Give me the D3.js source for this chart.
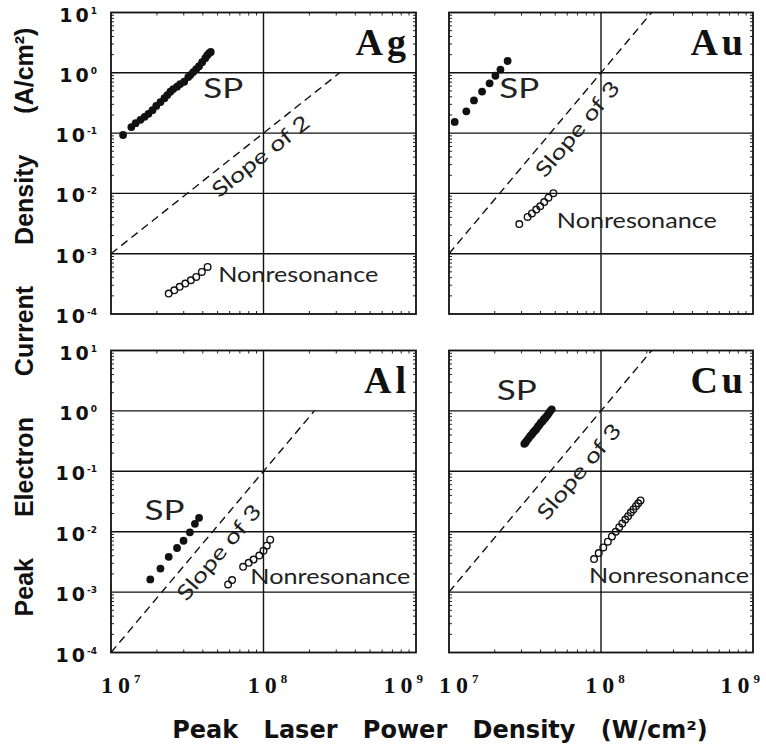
<!DOCTYPE html>
<html>
<head>
<meta charset="utf-8">
<script src="https://cdn.jsdelivr.net/npm/d3@7"></script>
<style>
  html, body { margin: 0; padding: 0; background: #fff; }
  svg { display: block; }
</style>
</head>
<body>
<svg id="chart" width="766" height="747"></svg>
<script>
// ---------- data ----------
const metals = ["Ag", "Au", "Al", "Cu"];
const slopeNames = ["Slope of 2", "Slope of 3", "Slope of 3", "Slope of 3"];

const xTickValues = [1e7, 1e8, 1e9];
const xTickExponents = ["7", "8", "9"];
const yTickValues = [1e1, 1e0, 1e-1, 1e-2, 1e-3, 1e-4];
const yTickExponents = ["1", "0", "-1", "-2", "-3", "-4"];

// surface-plasmon (SP) excitation: [laser power density W/cm², current density A/cm²]
const agSP = [
  [1.20e7, 0.093], [1.36e7, 0.126], [1.45e7, 0.146], [1.56e7, 0.166], [1.66e7, 0.186],
  [1.76e7, 0.209], [1.87e7, 0.240], [1.98e7, 0.282], [2.11e7, 0.327], [2.24e7, 0.380],
  [2.34e7, 0.427], [2.45e7, 0.485], [2.56e7, 0.537], [2.71e7, 0.589], [2.84e7, 0.650],
  [3.02e7, 0.710], [3.21e7, 0.851], [3.31e7, 0.916], [3.46e7, 1.03], [3.62e7, 1.15],
  [3.78e7, 1.29], [3.96e7, 1.50], [4.15e7, 1.75], [4.28e7, 1.96], [4.41e7, 2.12],
  [4.51e7, 2.22]
];
const auSP = [
  [1.09e7, 0.153], [1.30e7, 0.230], [1.46e7, 0.348], [1.65e7, 0.489],
  [1.85e7, 0.668], [2.02e7, 0.893], [2.18e7, 1.13], [2.43e7, 1.57]
];
const alSP = [
  [1.81e7, 1.62e-3], [2.11e7, 2.45e-3], [2.39e7, 3.83e-3], [2.71e7, 5.37e-3],
  [2.99e7, 7.08e-3], [3.29e7, 9.77e-3], [3.55e7, 1.35e-2], [3.78e7, 1.70e-2]
];
const cuSP = [
  [3.13e7, 0.285], [3.19e7, 0.300], [3.26e7, 0.326], [3.34e7, 0.352], [3.42e7, 0.383],
  [3.50e7, 0.405], [3.58e7, 0.440], [3.67e7, 0.470], [3.75e7, 0.498], [3.84e7, 0.548],
  [3.93e7, 0.585], [4.02e7, 0.636], [4.12e7, 0.672], [4.21e7, 0.728], [4.31e7, 0.770],
  [4.42e7, 0.838], [4.52e7, 0.905], [4.62e7, 0.985], [4.74e7, 1.06]
];

// nonresonant illumination
const agNR = [
  [2.39e7, 2.18e-4], [2.60e7, 2.47e-4], [2.82e7, 2.82e-4], [3.07e7, 3.19e-4],
  [3.34e7, 3.63e-4], [3.62e7, 4.12e-4], [3.94e7, 4.99e-4], [4.30e7, 6.03e-4]
];
const auNR = [
  [2.90e7, 3.10e-3], [3.29e7, 4.08e-3], [3.51e7, 4.65e-3], [3.75e7, 5.41e-3],
  [3.98e7, 6.12e-3], [4.23e7, 7.19e-3], [4.51e7, 8.51e-3], [4.86e7, 1.01e-2]
];
const alNR = [
  [5.86e7, 1.34e-3], [6.22e7, 1.58e-3], [7.35e7, 2.62e-3], [8.00e7, 3.05e-3],
  [8.61e7, 3.46e-3], [9.38e7, 4.03e-3], [1.00e8, 4.86e-3], [1.05e8, 5.87e-3],
  [1.107e8, 7.38e-3]
];
const cuNR = [
  [9.00e7, 3.52e-3], [9.66e7, 4.42e-3], [1.035e8, 5.50e-3], [1.109e8, 6.84e-3],
  [1.180e8, 8.34e-3], [1.250e8, 1.00e-2], [1.318e8, 1.19e-2], [1.380e8, 1.37e-2],
  [1.445e8, 1.59e-2], [1.507e8, 1.81e-2], [1.570e8, 2.07e-2], [1.633e8, 2.34e-2],
  [1.698e8, 2.65e-2], [1.758e8, 2.96e-2], [1.820e8, 3.30e-2]
];

// power-law guide lines (end points)
const agGuide = [[1e7, 1e-3], [3.16e8, 1e0]];
const auGuide = [[1e7, 1e-3], [2.154e8, 1e1]];
const alGuide = [[1e7, 1e-4], [2.154e8, 1e0]];
const cuGuide = [[1e7, 1e-3], [2.154e8, 1e1]];

// ---------- layout ----------
const svg = d3.select("#chart");
const cols = [[111, 416], [449, 753]];
const rows = [[12.5, 314], [350.5, 652.5]];

const panels = [
  { sp: agSP, nr: agNR, guide: agGuide,
    spAt: [4.03e7, 0.382], nrAt: [5.05e7, 3.44e-4], slopeAt: [9.2e7, 0.047] },
  { sp: auSP, nr: auNR, guide: auGuide,
    spAt: [2.14e7, 0.379], nrAt: [5.12e7, 2.67e-3], slopeAt: [6.65e7, 0.130] },
  { sp: alSP, nr: alNR, guide: alGuide,
    spAt: [1.66e7, 1.58e-2], nrAt: [8.2e7, 1.34e-3], slopeAt: [4.86e7, 5.05e-3] },
  { sp: cuSP, nr: cuNR, guide: cuGuide,
    spAt: [2.06e7, 1.50], nrAt: [8.35e7, 1.41e-3], slopeAt: [6.82e7, 0.110] }
];

const labelFont = "Lato, 'Open Sans', sans-serif";
const ink = "#111";

panels.forEach((p, i) => {
  const col = i % 2, row = Math.floor(i / 2);
  const [x0, x1] = cols[col];
  const [y0, y1] = rows[row];

  const x = d3.scaleLog().domain([1e7, 1e9]).range([x0, x1]);
  const y = d3.scaleLog().domain([1e-4, 1e1]).range([y1, y0]);

  const g = svg.append("g");

  // decade grid
  g.selectAll("line.hgrid")
    .data(yTickValues.slice(1, -1))
    .join("line")
    .attr("x1", x0).attr("x2", x1)
    .attr("y1", d => y(d)).attr("y2", d => y(d))
    .attr("stroke", ink).attr("stroke-width", 1.4);
  g.append("line")
    .attr("x1", x(1e8)).attr("x2", x(1e8))
    .attr("y1", y0).attr("y2", y1)
    .attr("stroke", ink).attr("stroke-width", 1.4);

  // minor ticks pointing inward on all four sides
  const isPow10 = v => Math.abs(Math.log10(v) - Math.round(Math.log10(v))) < 1e-9;
  const xMinor = x.ticks().filter(v => !isPow10(v));
  const yMinor = y.ticks().filter(v => !isPow10(v));
  const tl = 3;
  g.selectAll("line.xmb").data(xMinor).join("line")
    .attr("x1", d => x(d)).attr("x2", d => x(d))
    .attr("y1", y1).attr("y2", y1 - tl)
    .attr("stroke", "#222").attr("stroke-width", 1);
  g.selectAll("line.xmt").data(xMinor).join("line")
    .attr("x1", d => x(d)).attr("x2", d => x(d))
    .attr("y1", y0).attr("y2", y0 + tl)
    .attr("stroke", "#222").attr("stroke-width", 1);
  g.selectAll("line.yml").data(yMinor).join("line")
    .attr("x1", x0).attr("x2", x0 + tl)
    .attr("y1", d => y(d)).attr("y2", d => y(d))
    .attr("stroke", "#222").attr("stroke-width", 1);
  g.selectAll("line.ymr").data(yMinor).join("line")
    .attr("x1", x1).attr("x2", x1 - tl)
    .attr("y1", d => y(d)).attr("y2", d => y(d))
    .attr("stroke", "#222").attr("stroke-width", 1);

  // frame
  g.append("rect")
    .attr("x", x0).attr("y", y0)
    .attr("width", x1 - x0).attr("height", y1 - y0)
    .attr("fill", "none").attr("stroke", ink).attr("stroke-width", 1.8);

  // power-law guide
  g.append("line")
    .attr("x1", x(p.guide[0][0])).attr("y1", y(p.guide[0][1]))
    .attr("x2", x(p.guide[1][0])).attr("y2", y(p.guide[1][1]))
    .attr("stroke", ink).attr("stroke-width", 1.4)
    .attr("stroke-dasharray", "8,5");

  const gx0 = x(p.guide[0][0]), gy0 = y(p.guide[0][1]);
  const gx1 = x(p.guide[1][0]), gy1 = y(p.guide[1][1]);
  const angle = Math.atan2(gy1 - gy0, gx1 - gx0) * 180 / Math.PI;
  g.append("text")
    .attr("transform", `translate(${x(p.slopeAt[0])},${y(p.slopeAt[1])}) rotate(${angle})`)
    .attr("text-anchor", "middle")
    .attr("dy", "0.55em")
    .attr("font-family", labelFont)
    .attr("font-size", 21)
    .attr("textLength", 118).attr("lengthAdjust", "spacingAndGlyphs")
    .attr("fill", "#222")
    .text(slopeNames[i]);

  // nonresonance: open circles
  g.selectAll("circle.nr").data(p.nr).join("circle")
    .attr("cx", d => x(d[0])).attr("cy", d => y(d[1]))
    .attr("r", 3.3)
    .attr("fill", "none").attr("stroke", ink).attr("stroke-width", 1.4);

  // SP: filled circles
  g.selectAll("circle.sp").data(p.sp).join("circle")
    .attr("cx", d => x(d[0])).attr("cy", d => y(d[1]))
    .attr("r", 3.9)
    .attr("fill", ink);

  // series labels
  g.append("text")
    .attr("x", x(p.spAt[0])).attr("y", y(p.spAt[1]))
    .attr("font-family", labelFont)
    .attr("font-size", 26)
    .attr("textLength", 40).attr("lengthAdjust", "spacingAndGlyphs")
    .attr("fill", "#222")
    .text("SP");
  g.append("text")
    .attr("x", x(p.nrAt[0])).attr("y", y(p.nrAt[1]))
    .attr("font-family", labelFont)
    .attr("font-size", 21)
    .attr("textLength", 160).attr("lengthAdjust", "spacingAndGlyphs")
    .attr("fill", "#222")
    .text("Nonresonance");

  // metal name
  g.append("text")
    .attr("x", x1 - 6).attr("y", y0 + 42)
    .attr("text-anchor", "end")
    .attr("font-family", "'Liberation Serif', 'DejaVu Serif', serif")
    .attr("font-weight", "bold")
    .attr("font-size", 38)
    .attr("letter-spacing", 4)
    .attr("fill", ink)
    .text(metals[i]);

  // y tick labels on the left column
  if (col === 0) {
    yTickValues.forEach((v, k) => {
      const t = g.append("text")
        .attr("x", 97).attr("y", y(v) + 9)
        .attr("text-anchor", "end")
        .attr("font-family", "'DejaVu Sans', sans-serif")
        .attr("font-weight", "bold")
        .attr("fill", ink);
      t.append("tspan").attr("font-size", 19).attr("letter-spacing", 3).text("1");
      t.append("tspan").attr("font-size", 19).text("0");
      t.append("tspan").attr("font-size", 9).attr("dx", 2).attr("dy", -8).text(yTickExponents[k]);
    });
  }

  // x tick labels on the bottom row
  if (row === 1) {
    xTickValues.forEach((v, k) => {
      const anchor = k === 0 ? "start" : (k === xTickValues.length - 1 ? "end" : "middle");
      const off = k === 0 ? -10 : (k === xTickValues.length - 1 ? 7 : 4);
      const t = g.append("text")
        .attr("x", x(v) + off).attr("y", 693)
        .attr("text-anchor", anchor)
        .attr("font-family", "'Liberation Serif', 'DejaVu Serif', serif")
        .attr("font-weight", "bold")
        .attr("fill", ink);
      t.append("tspan").attr("font-size", 24).attr("letter-spacing", 5).text("1");
      t.append("tspan").attr("font-size", 24).text("0");
      t.append("tspan").attr("font-size", 13).attr("dx", 4).attr("dy", -10).text(xTickExponents[k]);
    });
  }
});

// axis titles
svg.append("text")
  .attr("transform", "translate(33,322) rotate(-90)")
  .attr("text-anchor", "middle")
  .attr("font-family", "'Liberation Sans', Arial, sans-serif")
  .attr("font-weight", "bold")
  .attr("font-size", 25)
  .attr("word-spacing", 34)
  .attr("fill", ink)
  .text("Peak Electron Current Density (A/cm²)");

svg.append("text")
  .attr("x", 440).attr("y", 738)
  .attr("text-anchor", "middle")
  .attr("font-family", "'DejaVu Sans', sans-serif")
  .attr("font-weight", "bold")
  .attr("font-size", 24)
  .attr("word-spacing", 17)
  .attr("fill", ink)
  .text("Peak Laser Power Density (W/cm²)");
</script>
</body>
</html>
